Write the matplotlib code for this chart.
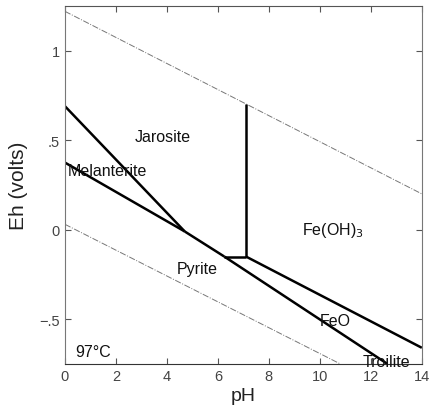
import matplotlib.pyplot as plt

plt.rcParams['font.family'] = ['Liberation Sans', 'DejaVu Sans']

# water stability limits (dashed)
upper_ph = [0, 14]
upper_eh = [1.22, 0.20]
lower_ph = [0, 10.8]
lower_eh = [0.03, -0.75]

# phase boundaries (solid), each as (pH list, Eh list)
boundaries = {
    'jarosite_melanterite': ([0, 4.7], [0.69, -0.01]),
    'melanterite_pyrite': ([0, 4.7], [0.375, -0.01]),
    'jarosite_pyrite': ([4.7, 6.25], [-0.01, -0.15]),
    'horizontal': ([6.25, 7.1], [-0.15, -0.15]),
    'vertical': ([7.1, 7.1], [-0.15, 0.70]),
    'feoh3_feo': ([7.1, 14], [-0.15, -0.66]),
    'pyrite_feo': ([6.25, 12.65], [-0.15, -0.75]),
}

labels = ['Jarosite', 'Melanterite', r'Fe(OH)$_3$', 'Pyrite', 'FeO', 'Troilite', '97°C']
label_x = [3.85, 1.65, 10.5, 5.2, 10.6, 12.6, 1.1]
label_y = [0.52, 0.33, 0.0, -0.215, -0.505, -0.735, -0.68]

xticks = [0, 2, 4, 6, 8, 10, 12, 14]
yticks = [-0.5, 0, 0.5, 1]
yticklabels = ['\u2212.5', '0', '.5', '1']

fig = plt.figure(figsize=(4.3, 4.1), dpi=100)
ax = fig.add_axes([0.151, 0.110, 0.830, 0.873])

ax.plot(upper_ph, upper_eh, color='#777777', lw=0.7, linestyle='-.')
ax.plot(lower_ph, lower_eh, color='#777777', lw=0.7, linestyle='-.')

for name, (x, y) in boundaries.items():
    ax.plot(x, y, color='black', lw=1.8, solid_capstyle='butt')

for t, x, y in zip(labels, label_x, label_y):
    ax.text(x, y, t, fontsize=11.5, ha='center', va='center', color='#111111')

ax.set_xlim(0, 14)
ax.set_ylim(-0.75, 1.25)
ax.set_xticks(xticks)
ax.set_xticklabels([str(v) for v in xticks])
ax.set_yticks(yticks)
ax.set_yticklabels(yticklabels)
ax.tick_params(direction='in', length=4, top=True, right=True, labelsize=10.5,
               colors='#555555', labelcolor='#444444')
for s in ax.spines.values():
    s.set_color('#777777')
    s.set_linewidth(0.8)
ax.spines['bottom'].set_color('#333333')
ax.spines['top'].set_color('#555555')

ax.set_xlabel('pH', fontsize=14, color='#222222', labelpad=3)
ax.set_ylabel('Eh (volts)', fontsize=15, color='#222222', labelpad=8)

plt.savefig('out.png', dpi=100)
